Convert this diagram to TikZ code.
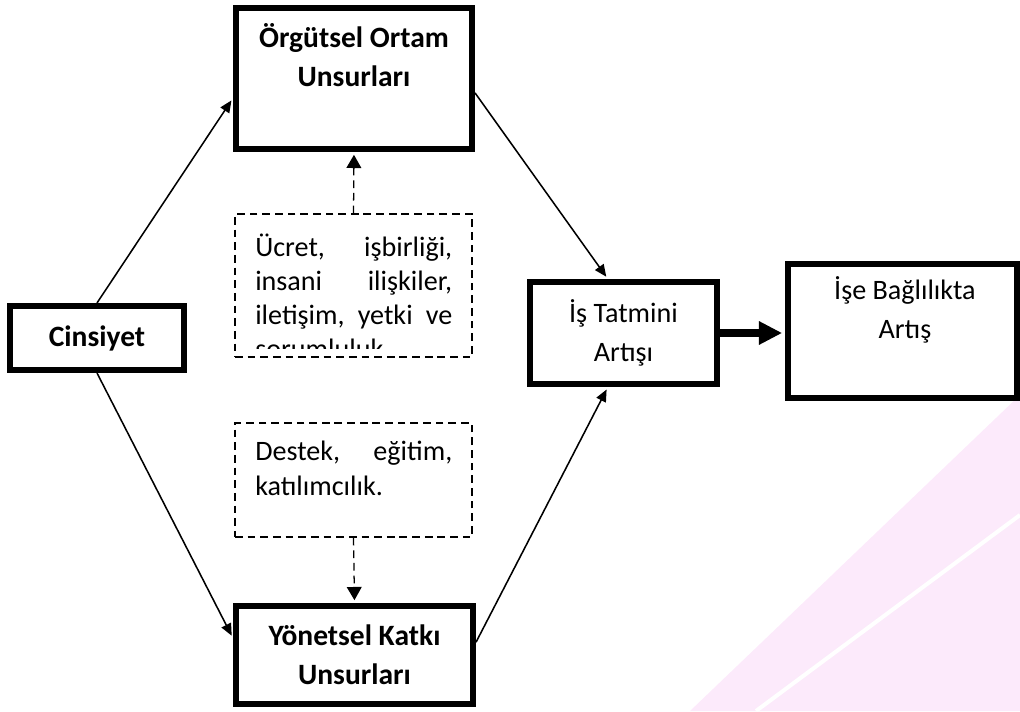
\documentclass[tikz,border=0pt]{standalone}
\usepackage{fontspec}
\setmainfont{Carlito}
\usetikzlibrary{arrows.meta,positioning}
\definecolor{filigran}{RGB}{252,234,251}

\begin{document}
\begin{tikzpicture}[
    kalin/.style={draw, line width=4pt, inner sep=0pt, align=center, font=\fontsize{20}{28}\selectfont},
    kesik/.style={draw, line width=0.9pt, dash pattern=on 5.5pt off 3.5pt},
    yazi/.style={inner sep=0pt, anchor=base, text width=5.5cm, align=flush center, font=\fontsize{20}{28}\selectfont},
    kalinyazi/.style={font=\bfseries\fontsize{21}{28}\selectfont},
    ok/.style={line width=1.1pt, shorten >=2pt, -{Triangle[length=0.3cm,width=0.26cm]}},
    kesikok/.style={line width=0.9pt, dash pattern=on 5.5pt off 3.5pt, shorten >=2pt, -{Triangle[length=0.33cm,width=0.37cm]}},
    kalinok/.style={line width=5pt, shorten >=2pt, -{Triangle[length=0.58cm,width=0.55cm]}}
  ]
        \useasboundingbox (0,0) rectangle (25.5,17.775);

        % soluk filigran
        \fill[filigran] (17.25,0) -- (25.5,7.9) -- (25.5,0) -- cycle;
        \draw[white, line width=0.1cm] (18.9,0) -- (25.5,4.9);

        \node[kalin, minimum width=5.91cm, minimum height=3.535cm] (org) at (8.85,15.8125) {};
        \node[kalin, kalinyazi, minimum width=4.36cm, minimum height=1.61cm] (cins) at (2.425,9.325) {Cinsiyet};
        \node[kalin, kalinyazi, minimum width=5.935cm, minimum height=2.46cm] (yon) at (8.8625,1.4) {Yönetsel Katkı\\Unsurları};
        \node[kalin, minimum width=4.685cm, minimum height=2.56cm] (tat) at (15.5875,9.45) {İş Tatmini\\Artışı};
        \node[kalin, minimum width=5.735cm, minimum height=3.36cm] (bag) at (22.5625,9.5) {};

        \node[kesik, minimum width=5.925cm, minimum height=3.575cm] (kutu1) at (8.8375,10.6375) {};
        \node[kesik, minimum width=5.925cm, minimum height=2.85cm] (kutu2) at (8.8375,5.775) {};

        \node[yazi, kalinyazi] (orgyazi) at ([yshift=-1.055cm]org.north) {Örgütsel Ortam\\Unsurları};
        \node[yazi] (bagyazi) at ([xshift=0.06cm,yshift=-0.955cm]bag.north) {İşe Bağlılıkta\\Artış};

        % kesik kutulardaki metin
        \begin{scope}
            \clip (kutu1.north west) rectangle ([yshift=0.225cm]kutu1.south east);
            \node[inner sep=0pt, anchor=base west, text width=4.925cm, font=\fontsize{20}{24}\selectfont] (kutu1yazi) at (6.375,11.35)
                {Ücret,\hfill işbirliği,\\insani\hfill ilişkiler,\\iletişim,\hfill yetki\hfill ve\\sorumluluk.};
        \end{scope}
        \node[inner sep=0pt, anchor=base west, text width=4.925cm, font=\fontsize{20}{25}\selectfont] (kutu2yazi) at (6.375,6.275)
            {Destek,\hfill eğitim,\\katılımcılık.};

        \draw[ok] (cins.north) -- ([yshift=-0.49cm]org.west);
        \draw[ok] ([yshift=-0.36cm]org.east) -- ([xshift=-0.39cm]tat.north);
        \draw[ok] (cins.south) -- ([yshift=0.42cm]yon.west);
        \draw[ok] ([yshift=0.32cm]yon.east) -- ([xshift=-0.39cm]tat.south);
        \draw[kesikok] (kutu1.north) -- (org.south);
        \draw[kesikok] (kutu2.south) -- (yon.north);
        \draw[kalinok] (tat.east) -- (tat.east -| bag.west);
    \end{tikzpicture}
\end{document}
